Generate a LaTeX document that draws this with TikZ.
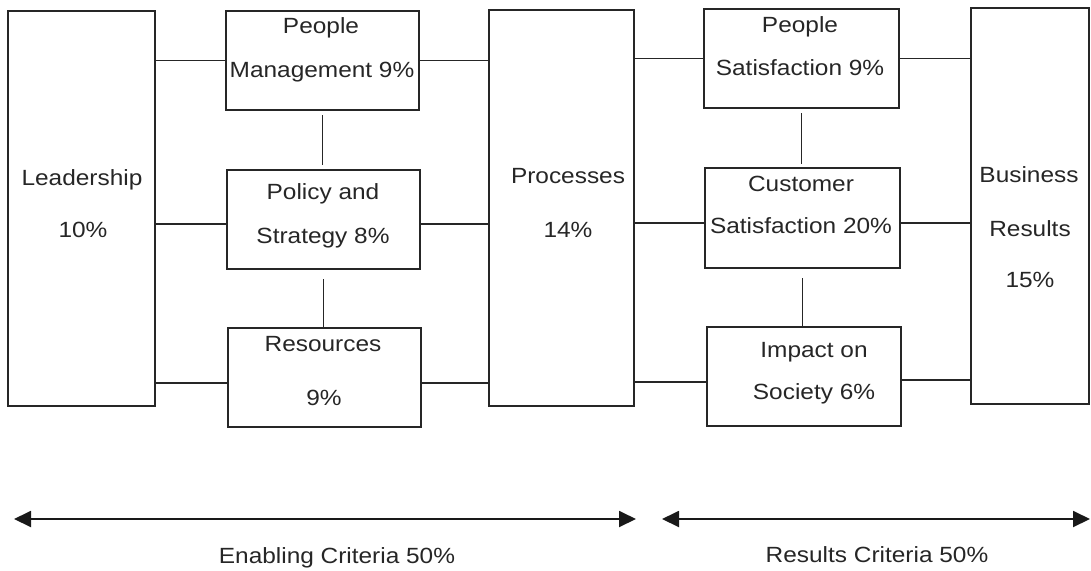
\documentclass[tikz,border=0pt]{standalone}
\usepackage{fontspec}
\setmainfont{Liberation Sans}[FakeStretch=1.11]
\usetikzlibrary{arrows.meta}
\begin{document}
\begin{tikzpicture}[x=1pt,y=-1pt,
  boxnode/.style={draw=black!85, line width=1.9pt, inner sep=0pt, outer sep=0pt},
  link/.style={draw=black!85, line width=1.9pt},
  txt/.style={anchor=base, inner sep=0pt, text=black!85, font=\fontsize{22}{26}\selectfont},
  span/.style={draw=black!90, line width=1.9pt, {Triangle[length=17pt,width=16pt]}-{Triangle[length=17pt,width=16pt]}}]
\useasboundingbox (0,0) rectangle (1091,570);
% boxes
\node[boxnode, minimum width=147pt, minimum height=395pt] (lead) at (81.5,208.5) {};
\node[boxnode, minimum width=193pt, minimum height=99pt] (pm) at (322.5,60.5) {};
\node[boxnode, minimum width=193pt, minimum height=99pt] (pol) at (323.5,219.5) {};
\node[boxnode, minimum width=193pt, minimum height=99pt] (res) at (324.5,377.5) {};
\node[boxnode, minimum width=145pt, minimum height=396pt] (proc) at (561.5,208) {};
\node[boxnode, minimum width=195pt, minimum height=99pt] (psat) at (801.5,58.5) {};
\node[boxnode, minimum width=195pt, minimum height=100pt] (csat) at (802.5,218) {};
\node[boxnode, minimum width=194pt, minimum height=99pt] (imp) at (804,376.5) {};
\node[boxnode, minimum width=118pt, minimum height=396pt] (bus) at (1030,206) {};
% texts
\node[txt] (t1) at (82,185) {Leadership};
\node[txt] (t2) at (83,237) {10\%};
\node[txt] (t3) at (321,33) {People};
\node[txt] (t4) at (322,77) {Management 9\%};
\node[txt] (t5) at (323,199) {Policy and};
\node[txt] (t6) at (323,243) {Strategy 8\%};
\node[txt] (t7) at (323,351) {Resources};
\node[txt] (t8) at (324,405) {9\%};
\node[txt] (t9) at (568,183) {Processes};
\node[txt] (t10) at (568,237) {14\%};
\node[txt] (t11) at (800,32) {People};
\node[txt] (t12) at (800,75) {Satisfaction 9\%};
\node[txt] (t13) at (801,191) {Customer};
\node[txt] (t14) at (801,233) {Satisfaction 20\%};
\node[txt] (t15) at (814,357) {Impact on};
\node[txt] (t16) at (814,399) {Society 6\%};
\node[txt] (t17) at (1029,182) {Business};
\node[txt] (t18) at (1030,236) {Results};
\node[txt] (t19) at (1030,287) {15\%};
\node[txt] (t20) at (337,563) {Enabling Criteria 50\%};
\node[txt] (t21) at (877,562) {Results Criteria 50\%};
% horizontal links
\draw[link] (pm.west) -- (pm.west -| lead.east);
\draw[link] ([yshift=-4.5pt]pol.west) -- ([yshift=-4.5pt]pol.west -| lead.east);
\draw[link] ([yshift=-5.5pt]res.west) -- ([yshift=-5.5pt]res.west -| lead.east);
\draw[link] (pm.east) -- (pm.east -| proc.west);
\draw[link] ([yshift=-4.5pt]pol.east) -- ([yshift=-4.5pt]pol.east -| proc.west);
\draw[link] ([yshift=-5.5pt]res.east) -- ([yshift=-5.5pt]res.east -| proc.west);
\draw[link] (psat.west) -- (psat.west -| proc.east);
\draw[link] ([yshift=-5pt]csat.west) -- ([yshift=-5pt]csat.west -| proc.east);
\draw[link] ([yshift=-5.5pt]imp.west) -- ([yshift=-5.5pt]imp.west -| proc.east);
\draw[link] (psat.east) -- (psat.east -| bus.west);
\draw[link] ([yshift=-5pt]csat.east) -- ([yshift=-5pt]csat.east -| bus.west);
\draw[link] ([yshift=-3.5pt]imp.east) -- ([yshift=-3.5pt]imp.east -| bus.west);
% vertical links
\draw[link, shorten <=5pt, shorten >=5pt] (pm.south) -- (pm.south |- pol.north);
\draw[link, shorten <=10pt] (pol.south) -- (pol.south |- res.north);
\draw[link, shorten <=5pt, shorten >=4pt] (psat.south) -- (psat.south |- csat.north);
\draw[link, shorten <=10pt] (csat.south) -- (csat.south |- imp.north);
% span arrows
\coordinate (la) at (14,519);
\coordinate (ra) at (636,519);
\coordinate (lb) at (662,519);
\coordinate (rb) at (1090,519);
\draw[span] (la) -- (ra);
\draw[span] (lb) -- (rb);
\end{tikzpicture}
\end{document}
